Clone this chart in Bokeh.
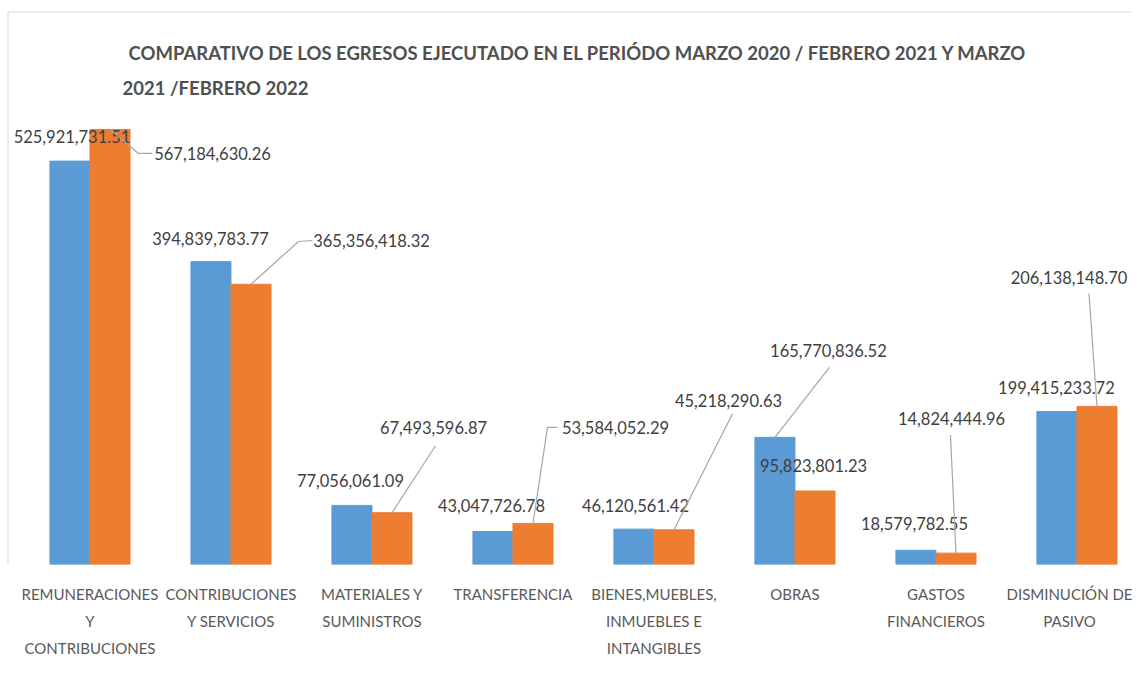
from bokeh.plotting import figure
from bokeh.models import Range1d, FixedTicker, Label, ColumnDataSource, Span
from bokeh.embed import file_html
from bokeh.resources import INLINE
from bokeh.core.properties import value

# ---------------- data ----------------
categories = [
    "REMUNERACIONES\nY\nCONTRIBUCIONES",
    "CONTRIBUCIONES\nY SERVICIOS",
    "MATERIALES Y\nSUMINISTROS",
    "TRANSFERENCIA",
    "BIENES,MUEBLES,\nINMUEBLES E\nINTANGIBLES",
    "OBRAS",
    "GASTOS\nFINANCIEROS",
    "DISMINUCIÓN DE\nPASIVO",
]
period_2020_2021 = [525921731.51, 394839783.77, 77056061.09, 43047726.78,
                    46120561.42, 165770836.52, 18579782.55, 199415233.72]
period_2021_2022 = [567184630.26, 365356418.32, 67493596.87, 53584052.29,
                    45218290.63, 95823801.23, 14824444.96, 206138148.70]
title_lines = [
    "COMPARATIVO  DE LOS EGRESOS EJECUTADO  EN EL PERIÓDO MARZO 2020 / FEBRERO 2021  Y MARZO",
    "2021 /FEBRERO 2022",
]

# ---------------- styling / layout ----------------
W, H = 1132, 668
BORDER_LEFT, BORDER_TOP, BORDER_BOTTOM = 7, 11, 104
FRAME_W = W - BORDER_LEFT
FRAME_H = H - BORDER_TOP - BORDER_BOTTOM
X_START, X_END = -0.585, 7.394
Y_END = 721.0e6
KX = FRAME_W / (X_END - X_START)      # px per category unit
KY = FRAME_H / Y_END                   # px per currency unit
BAR_W = 0.284
DODGE = 0.142
BLUE, ORANGE = "#5B9BD5", "#ED7D31"
FONT_NAME = "Lato"
FONT = value(FONT_NAME)
LABEL_COLOR = "#404040"
AXIS_COLOR = "#595959"
TITLE_COLOR = "#505050"
LEADER_COLOR = "#A6A6A6"

# label offsets in px (dx right, dy down) from the bar top centre
off_1 = [(2, -25), (-0.5, -23), (-1.5, -25), (-1.5, -26), (1.5, -24), (53.5, -87), (-1.5, -27), (-0.5, -24)]
off_2 = [(102.5, 24), (120.5, -43.8), (41.5, -85), (82.5, -96), (54.5, -129), (-1.5, -25.5), (-4.5, -135), (-28, -129)]
# leader line points in px relative to label centre
lead_1 = {5: [(1, 17)]}
lead_2 = {0: [(-74, 0), (-60, 0)], 1: [(-73, 1), (-59, 0)], 2: [(2, 18)], 3: [(-68, 0), (-58, 0)],
          4: [(4, 13)], 6: [(-1, 17)], 7: [(20, 16)]}

p = figure(width=W, height=H, output_backend="svg", toolbar_location=None,
           x_range=Range1d(X_START, X_END), y_range=Range1d(0, Y_END),
           y_axis_location=None, min_border_left=BORDER_LEFT, min_border_right=0,
           min_border_top=BORDER_TOP, min_border_bottom=BORDER_BOTTOM)
p.outline_line_color = None
p.grid.grid_line_color = None
p.background_fill_color = "white"
p.border_fill_color = "white"

# chart-area border (left and top edges)
p.add_layout(Span(location=X_START, dimension="height", line_color="#D9D9D9", line_width=2))
p.add_layout(Span(location=Y_END, dimension="width", line_color="#D9D9D9", line_width=2))

idx = list(range(len(categories)))
x1 = [i - DODGE for i in idx]
x2 = [i + DODGE for i in idx]
p.vbar(x=x1, top=period_2020_2021, width=BAR_W, color=BLUE)
p.vbar(x=x2, top=period_2021_2022, width=BAR_W, color=ORANGE)


def labels(xs, vals, offs, leads):
    lx, ly, txt, mxs, mys = [], [], [], [], []
    for i, (x, v) in enumerate(zip(xs, vals)):
        dx, dy = offs[i]
        cx, cy = x + dx / KX, v - dy / KY
        lx.append(cx)
        ly.append(cy)
        txt.append(f"{v:,.2f}")
        if i in leads:
            px = [x] + [cx + a / KX for a, b in leads[i]]
            py = [v] + [cy - b / KY for a, b in leads[i]]
            mxs.append(px)
            mys.append(py)
    return lx, ly, txt, mxs, mys


for xs, vals, offs, leads in ((x1, period_2020_2021, off_1, lead_1), (x2, period_2021_2022, off_2, lead_2)):
    lx, ly, txt, mxs, mys = labels(xs, vals, offs, leads)
    if mxs:
        p.multi_line(xs=mxs, ys=mys, line_color=LEADER_COLOR, line_width=1.2)
    src = ColumnDataSource(dict(x=lx, y=ly, t=txt))
    p.text(x="x", y="y", text="t", source=src, text_font=FONT, text_font_size="16.5px",
           text_color=LABEL_COLOR, text_align="center", text_baseline="middle")

# title
for line, sx, sy in zip(title_lines, [121, 115], [512, 477]):
    p.add_layout(Label(x=sx, y=sy, x_units="screen", y_units="screen", text=line,
                       text_font=FONT_NAME, text_font_size="18.5px", text_font_style="bold",
                       text_color=TITLE_COLOR, text_baseline="middle", text_align="left"))

ax = p.xaxis[0]
ax.ticker = FixedTicker(ticks=idx)
ax.major_label_overrides = {i: c for i, c in zip(idx, categories)}
ax.axis_line_color = None
ax.major_tick_line_color = None
ax.minor_tick_line_color = None
ax.major_label_text_font = FONT_NAME
ax.major_label_text_font_size = "15px"
ax.major_label_text_color = AXIS_COLOR
ax.major_label_text_line_height = 1.5
ax.major_label_standoff = 14

open("out.html", "w").write(file_html(p, INLINE))
